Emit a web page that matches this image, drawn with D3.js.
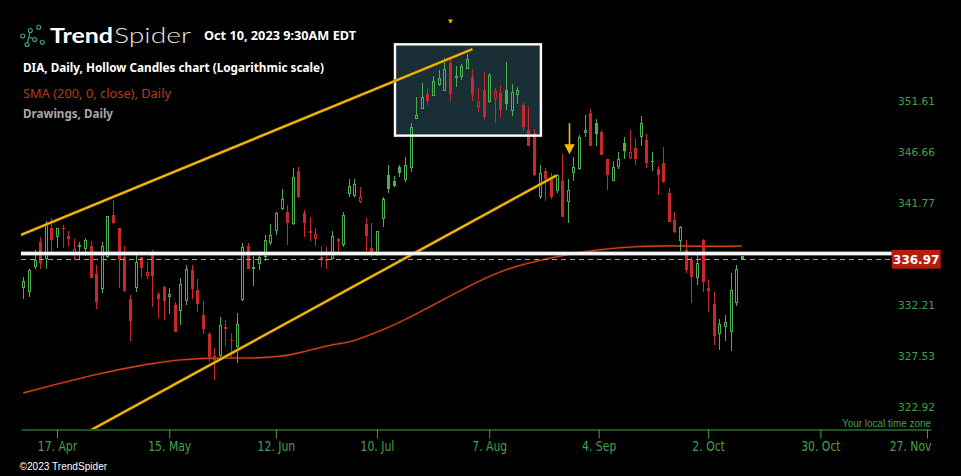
<!DOCTYPE html>
<html><head><meta charset="utf-8">
<script src="https://cdn.jsdelivr.net/npm/d3@7"></script>
<style>html,body{margin:0;padding:0;background:#000;overflow:hidden}svg{display:block}</style>
</head><body>
<svg id="chart" width="961" height="476"></svg>
<script>
// ---------------- DATA ----------------
const holidays = ["2023-04-07","2023-05-29","2023-06-19","2023-07-04","2023-09-04","2023-11-23"];
const calendarStart = "2023-04-06";
const calendarEnd = "2023-11-30";
const prevClose = 334.20;
const opens = [334.32,333.95,336.28,338.59,337.00,339.91,339.09,339.91,339.15,337.53,
338.09,337.91,338.21,335.60,334.18,337.16,341.14,339.91,337.21,333.28,
334.27,337.16,335.38,337.37,333.74,334.36,333.49,332.70,332.14,333.07,
335.94,334.11,331.77,330.06,328.08,328.05,330.70,329.51,328.90,333.19,
338.21,336.22,336.50,337.21,338.47,339.63,341.71,341.45,340.29,345.33,
341.36,339.63,338.90,337.19,336.78,337.03,338.85,338.31,343.16,342.97,
342.34,340.29,338.00,337.34,340.71,344.95,344.37,345.74,344.46,345.65,
350.38,351.35,352.79,352.62,353.67,353.11,355.86,354.55,354.49,355.21,
354.43,351.54,353.18,352.03,352.30,352.91,353.18,351.12,352.69,351.72,
349.29,348.96,342.88,345.33,344.78,343.42,344.37,342.40,345.17,345.52,
349.02,350.90,349.93,349.06,346.48,344.40,345.74,348.05,346.61,347.57,
348.63,348.31,346.32,345.52,346.13,343.20,340.66,338.71,337.84,336.90,
335.25,338.78,334.32,332.79,330.06,330.73,330.27,332.93,337.25];
const highs = [335.29,336.04,337.84,339.09,340.57,340.83,339.91,340.19,339.60,338.85,
338.56,338.96,338.65,336.44,338.56,341.07,342.56,339.94,338.21,333.65,
337.37,337.21,336.72,337.84,333.92,334.48,334.27,333.03,335.20,336.41,
336.41,335.10,333.09,330.24,328.78,331.61,331.34,330.15,331.98,338.50,
338.53,337.31,337.37,339.25,340.29,341.45,343.61,342.08,345.59,345.68,
341.61,340.99,339.88,338.21,338.09,339.63,338.99,341.39,344.56,344.56,
343.80,340.83,340.41,339.63,342.88,345.91,344.80,345.91,346.70,349.93,
352.52,353.89,353.34,354.55,355.14,356.29,356.29,355.53,355.73,356.72,
355.21,353.34,354.91,354.81,353.34,353.67,355.90,353.74,353.45,351.97,
351.48,349.35,345.91,345.65,345.11,345.04,346.96,344.56,346.64,348.80,
350.74,351.29,350.35,349.29,346.50,346.29,347.13,348.63,349.29,348.54,
350.64,348.89,347.18,345.81,347.66,343.70,341.39,340.09,338.78,337.16,
337.68,338.85,335.04,333.89,331.41,331.80,335.72,336.44,337.30];
const lows = [333.28,333.49,336.06,336.04,336.09,337.53,338.06,338.00,338.25,336.90,
336.88,337.31,335.20,332.38,333.86,337.10,340.29,334.32,333.95,329.44,
333.95,335.20,335.13,332.57,331.55,331.37,331.92,330.20,330.91,332.75,
333.31,332.08,330.06,327.53,325.90,327.98,328.99,327.78,327.38,333.12,
336.04,334.48,335.97,336.81,338.31,339.25,341.61,338.31,340.19,342.78,
339.09,338.71,338.25,336.28,336.04,337.00,337.68,338.15,342.82,342.82,
342.30,337.77,337.21,337.28,340.03,343.18,343.77,344.73,344.30,345.26,
350.35,351.32,351.72,352.60,353.60,353.08,352.10,353.50,354.16,355.20,
352.10,351.06,350.25,351.93,349.99,350.57,351.22,350.67,351.78,349.22,
347.70,344.85,342.66,342.46,342.63,343.20,340.95,340.41,344.37,345.43,
348.57,347.70,347.76,346.85,343.51,344.37,345.52,346.45,346.45,345.91,
347.76,345.65,345.36,343.04,344.20,340.44,339.41,337.77,335.66,332.93,
334.57,333.95,332.10,329.05,328.59,329.41,328.50,332.63,336.95];
const closes = [334.95,335.94,336.88,336.60,340.35,338.81,339.88,339.79,338.90,337.91,
338.31,338.78,335.25,332.97,338.21,341.02,340.35,336.90,334.02,331.28,
336.72,336.18,335.76,335.44,333.28,333.12,333.71,330.27,334.64,336.04,
334.18,332.85,330.54,327.93,327.71,330.88,330.49,329.44,330.94,338.12,
336.06,336.10,337.16,338.78,339.25,341.30,342.63,340.41,344.78,342.88,
340.41,339.41,339.34,337.03,337.00,339.18,338.65,341.14,343.90,344.09,
342.82,339.18,337.68,339.63,342.63,343.56,343.85,345.17,345.91,349.54,
350.74,352.46,352.13,354.06,354.33,355.21,352.76,354.39,355.53,356.19,
352.69,352.03,350.51,354.65,353.08,351.22,351.81,353.01,353.18,349.60,
347.73,344.95,345.11,344.54,342.88,344.95,340.99,343.51,345.68,348.57,
349.29,347.76,348.92,346.87,344.95,345.74,346.45,347.25,347.15,346.48,
349.99,346.13,346.18,344.95,344.30,340.51,339.57,339.97,335.97,335.35,
336.60,334.88,334.04,329.87,330.97,331.13,334.11,336.04,336.97];

const smaDates = ["2023-04-06","2023-04-27","2023-05-10","2023-05-17","2023-05-26","2023-06-05",
"2023-06-13","2023-06-16","2023-06-27","2023-06-30","2023-07-06","2023-07-11","2023-07-14",
"2023-07-31","2023-08-09","2023-08-22","2023-09-05","2023-09-14","2023-09-22","2023-10-02","2023-10-10"];
const smaValues = [324.70,326.55,327.38,327.73,327.89,327.82,327.98,328.29,329.11,329.26,329.81,
330.43,331.06,334.11,335.97,337.16,337.94,338.21,338.24,338.15,338.21];

const yTickValues = [322.92,327.53,332.21,341.77,346.66,351.61];
const xTickDates = ["2023-04-17","2023-05-15","2023-06-12","2023-07-10","2023-08-07","2023-09-04","2023-10-02","2023-10-30","2023-11-27"];
const xTickLabels = ["17. Apr","15. May","12. Jun","10. Jul","7. Aug","4. Sep","2. Oct","30. Oct","27. Nov"];

const lastPrice = 336.97;
const levelLinePrice = 337.51;
const upperTrend = [{date:"2023-04-06",price:339.35},{date:"2023-08-02",price:357.21}];
const lowerTrend = [{date:"2023-05-19",price:326.32},{date:"2023-08-23",price:344.91}];
const boxDrawing = {from:"2023-07-13",to:"2023-08-18",top:357.68,bottom:348.73};
const arrowDrawing = {date:"2023-08-25",tail:349.93,tip:346.93};
const markerDate = "2023-07-27";

// ---------------- CALENDAR ----------------
function isoDay(d){return d.toISOString().slice(0,10);}
function buildTradingDays(){
  const out=[]; let d=new Date(calendarStart+"T12:00:00Z"); const end=new Date(calendarEnd+"T12:00:00Z");
  while(d<=end){const wd=d.getUTCDay(); const s=isoDay(d);
    if(wd!==0&&wd!==6&&!holidays.includes(s)) out.push(s);
    d=new Date(d.getTime()+86400000);}
  return out;
}
const tradingDays = buildTradingDays();
const dayIndex = new Map(tradingDays.map((s,i)=>[s,i]));
function barIndex(s){
  if(dayIndex.has(s)) return dayIndex.get(s);
  let d=new Date(s+"T12:00:00Z");
  while(!dayIndex.has(isoDay(d))) d=new Date(d.getTime()+86400000);
  return dayIndex.get(isoDay(d))-0.5;
}

// ---------------- LAYOUT ----------------
const W=961,H=476;
const plotLeft=21, plotRight=931, axisY=429;
const green="#4caf50", red="#c9282b", yellow="#f5b800", axisGreen="#43a047";

const svg=d3.select("#chart");
svg.append("rect").attr("width",W).attr("height",H).attr("fill","#000");

const n=closes.length;
const x=d3.scaleLinear().domain([0,n-1]).range([23.3,741.8]);
const y=d3.scaleLog().domain([322.92,351.61]).range([412.7,106]);

svg.append("defs").append("clipPath").attr("id","plotclip")
  .append("rect").attr("x",plotLeft).attr("y",0).attr("width",plotRight-plotLeft).attr("height",axisY);

const plot=svg.append("g").attr("clip-path","url(#plotclip)");

// box fill (under candles)
const bx0=x(barIndex(boxDrawing.from))+1.2, bx1=x(barIndex(boxDrawing.to))+1.2;
const by0=y(boxDrawing.top), by1=y(boxDrawing.bottom);
plot.append("rect").attr("x",bx0).attr("y",by0).attr("width",bx1-bx0).attr("height",by1-by0)
  .attr("fill","#1a2e36");

// SMA line
const smaPts=smaDates.map((d,i)=>[x(barIndex(d)),y(smaValues[i])]);
const smaLine=d3.line().curve(d3.curveBasis);
plot.append("path").attr("d",smaLine(smaPts)).attr("fill","none").attr("stroke","#4a1406").attr("stroke-width",2.4);
plot.append("path").attr("d",smaLine(smaPts)).attr("fill","none").attr("stroke","#d9461c").attr("stroke-width",1.1);

// candles
const cg=plot.append("g").attr("shape-rendering","crispEdges");
for(let i=0;i<n;i++){
  const o=opens[i],h=highs[i],l=lows[i],c=closes[i];
  const pc=i?closes[i-1]:prevClose;
  const col=c>=pc?green:red;
  const hollow=c>o;
  const cx=Math.round(x(i));
  const yH=Math.round(y(h)), yL=Math.round(y(l)), yO=Math.round(y(o)), yC=Math.round(y(c));
  const top=Math.min(yO,yC), bot=Math.max(yO,yC);
  if(hollow){
    if(top>yH) cg.append("rect").attr("x",cx).attr("y",yH).attr("width",1).attr("height",top-yH).attr("fill",col);
    if(yL>bot) cg.append("rect").attr("x",cx).attr("y",bot).attr("width",1).attr("height",yL-bot).attr("fill",col);
    cg.append("rect").attr("x",cx-0.5).attr("y",top+0.5).attr("width",2).attr("height",Math.max(bot-top-1,0))
      .attr("fill","none").attr("stroke",col).attr("stroke-width",1);
  } else {
    cg.append("rect").attr("x",cx).attr("y",yH).attr("width",1).attr("height",Math.max(yL-yH,1)).attr("fill",col);
    cg.append("rect").attr("x",cx-1).attr("y",top).attr("width",3).attr("height",Math.max(bot-top,1)).attr("fill",col);
  }
}

// level line and last price dashed line
const boxLeft=891.7;
const yLevel=y(levelLinePrice), yLast=y(lastPrice);
svg.append("line").attr("x1",plotLeft).attr("x2",boxLeft).attr("y1",yLevel).attr("y2",yLevel)
  .attr("stroke","#bdbdbd").attr("stroke-width",4);
svg.append("line").attr("x1",plotLeft).attr("x2",boxLeft).attr("y1",yLevel).attr("y2",yLevel)
  .attr("stroke","#fff").attr("stroke-width",2.6);
svg.append("line").attr("x1",plotLeft).attr("x2",boxLeft).attr("y1",Math.round(yLast)+0.5).attr("y2",Math.round(yLast)+0.5)
  .attr("stroke","#9e9e9e").attr("stroke-width",1).attr("stroke-dasharray","5,4");

// box border
plot.append("rect").attr("x",bx0).attr("y",by0).attr("width",bx1-bx0).attr("height",by1-by0)
  .attr("fill","none").attr("stroke","#fff").attr("stroke-width",2.4);

// trend lines
function trendPath(pts, extendLeftTo){
  const p0=[x(barIndex(pts[0].date)),y(pts[0].price)], p1=[x(barIndex(pts[1].date)),y(pts[1].price)];
  const slope=(p1[1]-p0[1])/(p1[0]-p0[0]);
  const xs=extendLeftTo;
  return [[xs,p0[1]+slope*(xs-p0[0])],p1];
}
[trendPath(upperTrend,plotLeft),trendPath(lowerTrend,plotLeft)].forEach(seg=>{
  plot.append("path").attr("d",d3.line()(seg)).attr("stroke","#7a5a00").attr("stroke-width",3).attr("fill","none");
  plot.append("path").attr("d",d3.line()(seg)).attr("stroke",yellow).attr("stroke-width",2).attr("fill","none");
});

// arrow
const ax=Math.round(x(barIndex(arrowDrawing.date)))+1.5;
const yTail=y(arrowDrawing.tail), yTip=y(arrowDrawing.tip);
svg.append("line").attr("x1",ax).attr("x2",ax).attr("y1",yTail).attr("y2",yTip-9).attr("stroke",yellow).attr("stroke-width",1.6);
svg.append("path").attr("d",`M${ax-5.3},${yTip-10} L${ax+5.3},${yTip-10} L${ax},${yTip} Z`).attr("fill",yellow);

// top marker
const mx=Math.round(x(barIndex(markerDate)));
svg.append("path").attr("d",`M${mx-1.5},19.5 h4 v1.5 h-1 v2 h-2 v-2 h-1 Z`).attr("fill",yellow);

// y axis labels
const yAxis=d3.axisRight(y).tickValues(yTickValues).tickFormat(d3.format(".2f")).tickSize(0).tickPadding(0);
const yg=svg.append("g").attr("transform","translate(935,0)").call(yAxis);
yg.select(".domain").remove();
yg.selectAll("text").attr("text-anchor","end").attr("x",0).attr("dy",null).attr("y",-2)
  .attr("fill",axisGreen).style("font-family","'DejaVu Sans'").style("font-size","11px")
  .attr("textLength",37).attr("lengthAdjust","spacingAndGlyphs");

// last price box
svg.append("rect").attr("x",boxLeft).attr("y",yLast-9.3).attr("width",49).attr("height",18.7).attr("fill","#b71c0c");
svg.append("text").attr("x",boxLeft+24.5).attr("y",yLast+4.5).attr("text-anchor","middle")
  .attr("fill","#fff").style("font-family","'DejaVu Sans'").style("font-weight","bold").style("font-size","12px")
  .text(lastPrice.toFixed(2));

// x axis
const axisScale=d3.scaleLinear().domain([x.invert(plotLeft),x.invert(plotRight)]).range([plotLeft,plotRight]);
const xAxis=d3.axisBottom(axisScale).tickValues(xTickDates.map(barIndex))
  .tickFormat((d,i)=>xTickLabels[i]).tickSizeInner(9).tickSizeOuter(0).tickPadding(3);
const xg=svg.append("g").attr("transform",`translate(0,${axisY+0.5})`).call(xAxis);
xg.select(".domain").attr("stroke",axisGreen);
xg.selectAll(".tick line").attr("stroke",axisGreen);
xg.selectAll("text").attr("fill",axisGreen)
  .style("font-family","'Liberation Sans Narrow','Arial Narrow','DejaVu Sans Condensed',sans-serif").style("font-size","14px")
  .each(function(d){
    const t=d3.select(this); const w=this.getComputedTextLength()*0.86;
    t.attr("textLength",w).attr("lengthAdjust","spacingAndGlyphs");
    const cx=axisScale(d);
    if(cx+w/2>plotRight) t.attr("text-anchor","end").attr("x",plotRight-cx);
  });

svg.append("text").attr("x",plotRight).attr("y",426.5).attr("text-anchor","end").attr("fill",axisGreen)
  .attr("textLength",89).attr("lengthAdjust","spacingAndGlyphs")
  .style("font-family","'Liberation Sans Narrow',sans-serif").style("font-size","11px").text("Your local time zone");

// header
const logo=svg.append("g").attr("stroke","#3aa58e").attr("fill","none").attr("stroke-width",1.1);
const nodes=[[22.7,36],[27,44.5],[30.3,30.5],[34.7,39.5],[38.7,27.3],[42.3,42.3]];
[[30.3,30.5],[29,37],[27,44.5]].reduce((a,b)=>{logo.append("line").attr("x1",a[0]).attr("y1",a[1]).attr("x2",b[0]).attr("y2",b[1]);return b;});
logo.append("line").attr("x1",29).attr("y1",37).attr("x2",34.7).attr("y2",39.5);
nodes.forEach(p=>logo.append("circle").attr("cx",p[0]).attr("cy",p[1]).attr("r",2).attr("fill","#000"));

svg.append("text").attr("x",50).attr("y",42.5).attr("fill","#fff").attr("textLength",63).attr("lengthAdjust","spacingAndGlyphs")
  .style("font-family","Lato,'Open Sans',sans-serif").style("font-weight","bold").style("font-size","21px").text("Trend");
svg.append("text").attr("x",114).attr("y",42.5).attr("fill","#e6e6e6").attr("textLength",77).attr("lengthAdjust","spacingAndGlyphs")
  .style("font-family","Lato,'Open Sans',sans-serif").style("font-weight","300").style("font-size","21px").text("Spider");
svg.append("text").attr("x",204).attr("y",39.5).attr("fill","#fff").attr("textLength",152).attr("lengthAdjust","spacingAndGlyphs")
  .style("font-family","'Noto Sans',sans-serif").style("font-weight","bold").style("font-size","12.5px").text("Oct 10, 2023 9:30AM EDT");
svg.append("text").attr("x",23).attr("y",71.5).attr("fill","#fff").attr("textLength",301).attr("lengthAdjust","spacingAndGlyphs")
  .style("font-family","'Noto Sans',sans-serif").style("font-weight","bold").style("font-size","12px").text("DIA, Daily, Hollow Candles chart (Logarithmic scale)");
svg.append("text").attr("x",23).attr("y",97.5).attr("fill","#b63b1e").attr("textLength",148).attr("lengthAdjust","spacingAndGlyphs")
  .style("font-family","'Noto Sans',sans-serif").style("font-size","12px").text("SMA (200, 0, close), Daily");
svg.append("text").attr("x",23).attr("y",117.5).attr("fill","#a8a8a8").attr("textLength",90).attr("lengthAdjust","spacingAndGlyphs")
  .style("font-family","'Noto Sans',sans-serif").style("font-weight","bold").style("font-size","12px").text("Drawings, Daily");

svg.append("text").attr("x",19.6).attr("y",469.5).attr("fill","#fff").attr("textLength",87.5).attr("lengthAdjust","spacingAndGlyphs")
  .style("font-family","'Liberation Sans Narrow',sans-serif").style("font-size","10.5px").text("©2023 TrendSpider");
</script>
</body></html>
